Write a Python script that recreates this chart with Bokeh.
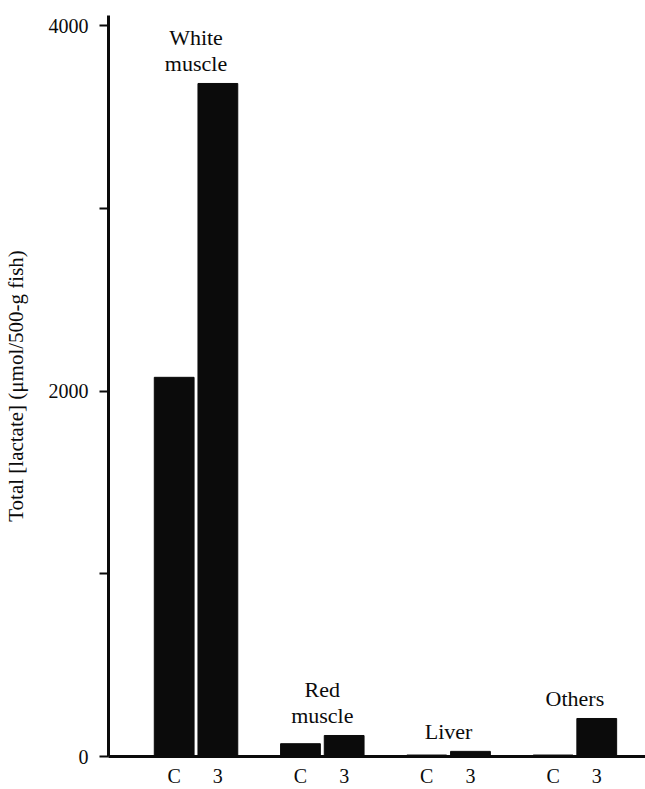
import numpy as np
from bokeh.plotting import figure
from bokeh.models import ColumnDataSource, Range1d, FixedTicker
from bokeh.transform import dodge
from bokeh.core.properties import value
from bokeh.embed import file_html
from bokeh.resources import INLINE

# ---- data ----
groups = ["White\nmuscle", "Red\nmuscle", "Liver", "Others"]
series_labels = ["C", "3"]
control = [2075, 70, 8, 8]
hour3 = [3683, 115, 28, 208]
y_ticks = [0, 1000, 2000, 3000, 4000]
y_tick_labels = ["0", "", "2000", "", "4000"]
y_title = "Total [lactate] (\u03bcmol/500-g fish)"

FONT = "Liberation Serif"
INK = "#0b0b0b"
OFF = 0.173
BW = 0.315

gidx = np.arange(len(groups), dtype=float)
src = ColumnDataSource(dict(
    g=gidx, c=control, t=hour3, name=groups,
    top=[max(a, b) for a, b in zip(control, hour3)],
))

p = figure(width=645, height=789, output_backend="svg", toolbar_location=None,
           x_range=Range1d(-0.693, 3.559), y_range=Range1d(0, 4055),
           min_border_left=105, min_border_top=15, min_border_bottom=32,
           min_border_right=0, outline_line_color=None)
p.grid.visible = False
p.background_fill_color = "white"

p.vbar(x=dodge("g", -OFF, range=p.x_range), top="c", bottom=0, width=BW,
       source=src, fill_color=INK, line_color=INK)
p.vbar(x=dodge("g", OFF, range=p.x_range), top="t", bottom=0, width=BW,
       source=src, fill_color=INK, line_color=INK)

p.text(x="g", y="top", text="name", source=src, text_align="center",
       text_baseline="bottom", y_offset=-7, text_font=value(FONT),
       text_font_size="22px", text_color=INK, text_line_height=1.05)

# x axis: C / 3 labels under each bar
xt = []
overrides = {}
for g in gidx:
    for k, s in enumerate(series_labels):
        pos = float(g + (-OFF if k == 0 else OFF))
        xt.append(pos)
        overrides[pos] = s
xa = p.xaxis[0]
xa.ticker = FixedTicker(ticks=xt)
xa.major_label_overrides = overrides
xa.major_tick_out = 0
xa.major_tick_in = 0
xa.minor_tick_out = 0
xa.minor_tick_in = 0
xa.axis_line_width = 3
xa.axis_line_color = INK
xa.major_label_standoff = 8
xa.major_label_text_font = FONT
xa.major_label_text_font_size = "20px"
xa.major_label_text_color = INK

ya = p.yaxis[0]
ya.ticker = FixedTicker(ticks=y_ticks)
ya.major_label_overrides = {t: l for t, l in zip(y_ticks, y_tick_labels)}
ya.major_tick_out = 9
ya.major_tick_in = 0
ya.minor_tick_out = 0
ya.minor_tick_in = 0
ya.major_tick_line_width = 2
ya.major_tick_line_color = INK
ya.axis_line_width = 3
ya.axis_line_color = INK
ya.major_label_standoff = 11
ya.major_label_text_font = FONT
ya.major_label_text_font_size = "20px"
ya.major_label_text_color = INK
ya.axis_label = y_title
ya.axis_label_text_font = FONT
ya.axis_label_text_font_size = "21px"
ya.axis_label_text_font_style = "normal"
ya.axis_label_text_color = INK
ya.axis_label_standoff = 18

open("out.html", "w").write(file_html(p, INLINE))
